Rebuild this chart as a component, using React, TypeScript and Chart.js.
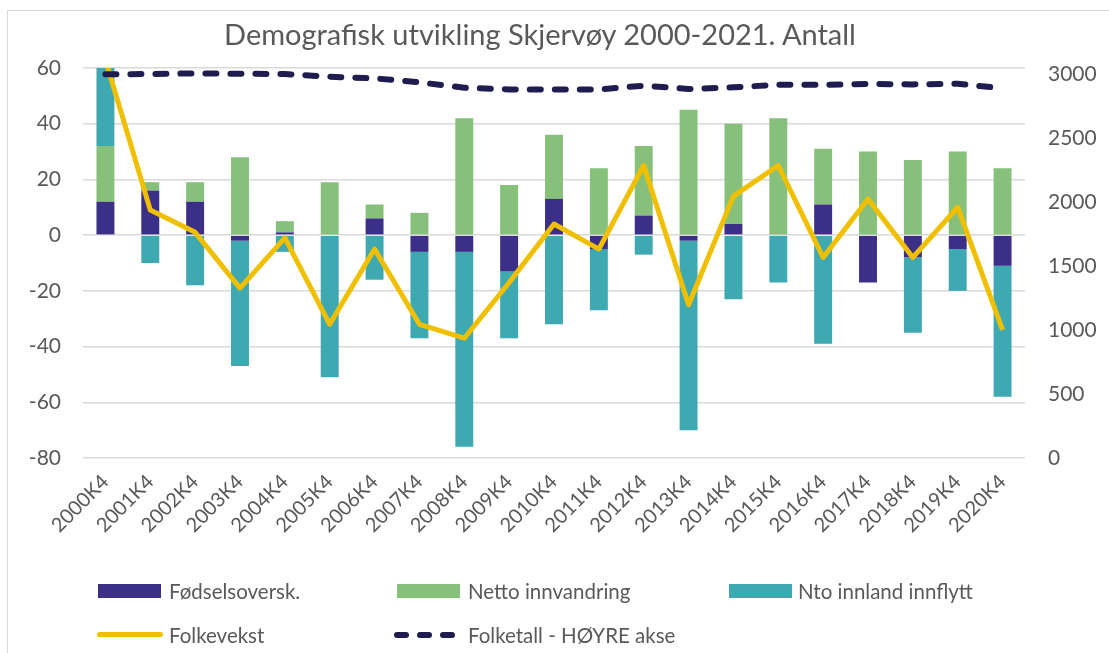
import React, { useEffect, useRef } from "react";
import { Chart, registerables } from "chart.js";

Chart.register(...registerables);

const categories = [
  "2000K4", "2001K4", "2002K4", "2003K4", "2004K4", "2005K4", "2006K4",
  "2007K4", "2008K4", "2009K4", "2010K4", "2011K4", "2012K4", "2013K4",
  "2014K4", "2015K4", "2016K4", "2017K4", "2018K4", "2019K4", "2020K4",
];
const fodselsoverskudd = [12, 16, 12, -2, 1, 0, 6, -6, -6, -13, 13, -5, 7, -2, 4, 0, 11, -17, -8, -5, -11];
const nettoInnvandring = [20, 3, 7, 28, 4, 19, 5, 8, 42, 18, 23, 24, 25, 45, 36, 42, 20, 30, 27, 30, 24];
const ntoInnlandInnflytt = [31, -10, -18, -45, -6, -51, -16, -31, -70, -24, -32, -22, -7, -68, -23, -17, -39, 0, -27, -15, -47];
const folkevekst = [63, 9, 1, -19, -1, -32, -5, -32, -37, -17, 4, -5, 25, -25, 14, 25, -8, 13, -8, 10, -34];
const folketall = [2998, 3000, 3005, 3002, 3000, 2979, 2966, 2935, 2893, 2880, 2880, 2880, 2909, 2883, 2896, 2916, 2916, 2922, 2919, 2924, 2888];

const leftTicks = [-80, -60, -40, -20, 0, 20, 40, 60];
const rightTicks = [0, 500, 1000, 1500, 2000, 2500, 3000];

const TITLE = "Demografisk utvikling Skjervøy 2000-2021. Antall";
const COLORS = {
  purple: "#3b2f88",
  green: "#86c07a",
  teal: "#3fa9b2",
  yellow: "#f0c000",
  navy: "#1f1d50",
  text: "#595959",
  grid: "#d9d9d9",
};

const FONT = "Lato, 'Open Sans', sans-serif";

export default function App() {
  const ref = useRef<HTMLCanvasElement | null>(null);

  useEffect(() => {
    if (!ref.current) return;
    Chart.defaults.font.family = FONT;
    Chart.defaults.color = COLORS.text;
    const chart = new Chart(ref.current, {
      type: "bar",
      data: {
        labels: categories,
        datasets: [
          {
            type: "line",
            label: "Folketall - HØYRE akse",
            data: folketall,
            yAxisID: "y1",
            borderColor: COLORS.navy,
            borderWidth: 6,
            borderDash: [11, 14],
            borderCapStyle: "round",
            pointRadius: 0,
            tension: 0,
            order: 0,
          },
          {
            type: "line",
            label: "Folkevekst",
            data: folkevekst,
            yAxisID: "y",
            borderColor: COLORS.yellow,
            borderWidth: 5,
            borderJoinStyle: "round",
            pointRadius: 0,
            tension: 0,
            clip: 0,
            order: 1,
          },
          {
            label: "Fødselsoversk.",
            data: fodselsoverskudd,
            backgroundColor: COLORS.purple,
            yAxisID: "y",
            stack: "s",
            order: 2,
            clip: 0,
          },
          {
            label: "Netto innvandring",
            data: nettoInnvandring,
            backgroundColor: COLORS.green,
            yAxisID: "y",
            stack: "s",
            order: 2,
            clip: 0,
          },
          {
            label: "Nto innland innflytt",
            data: ntoInnlandInnflytt,
            backgroundColor: COLORS.teal,
            yAxisID: "y",
            stack: "s",
            order: 2,
            clip: 0,
          },
        ] as any,
      },
      options: {
        responsive: false,
        animation: false,
        devicePixelRatio: 1,
        layout: { padding: { left: 0, right: 0, top: 68, bottom: 0 } },
        datasets: { bar: { barPercentage: 0.4, categoryPercentage: 1 } },
        plugins: {
          legend: { display: false },
          tooltip: { enabled: false },
          title: { display: false },
        },
        scales: {
          x: {
            stacked: true,
            offset: true,
            grid: { display: false },
            border: { display: false },
            ticks: {
              color: COLORS.text,
              font: { family: FONT, size: 20 },
              minRotation: 45,
              maxRotation: 45,
              autoSkip: false,
              padding: 4,
            },
            afterFit: (s: any) => {
              s.height = 195;
            },
          },
          y: {
            stacked: true,
            position: "left",
            min: -80,
            max: 60,
            grid: { color: COLORS.grid, lineWidth: 1.5, drawTicks: false },
            border: { display: false },
            afterBuildTicks: (s: any) => {
              s.ticks = leftTicks.map((v) => ({ value: v }));
            },
            ticks: {
              color: COLORS.text,
              font: { family: FONT, size: 21 },
              padding: 22,
              callback: (v: any) => String(v),
            },
            afterFit: (s: any) => {
              s.width = 83;
            },
          },
          y1: {
            position: "right",
            min: 0,
            max: 3047,
            grid: { display: false, drawTicks: false },
            border: { display: false },
            afterBuildTicks: (s: any) => {
              s.ticks = rightTicks.map((v) => ({ value: v }));
            },
            ticks: {
              color: COLORS.text,
              font: { family: FONT, size: 21 },
              padding: 23,
              callback: (v: any) => String(v),
            },
            afterFit: (s: any) => {
              s.width = 84;
            },
          },
        },
      } as any,
    });
    return () => chart.destroy();
  }, []);

  const legendText: React.CSSProperties = {
    position: "absolute",
    fontFamily: FONT,
    fontSize: 20.5,
    color: COLORS.text,
    lineHeight: "24px",
    whiteSpace: "nowrap",
  };
  const box = (left: number, color: string): React.CSSProperties => ({
    position: "absolute",
    left,
    top: 584,
    width: 63,
    height: 14,
    background: color,
  });
  const dash = (left: number): React.CSSProperties => ({
    position: "absolute",
    left,
    top: 632,
    width: 15,
    height: 6,
    borderRadius: 3,
    background: COLORS.navy,
  });

  return (
    <div
      style={{
        position: "fixed",
        left: 0,
        top: 0,
        width: 1109,
        height: 653,
        overflow: "hidden",
        background: "#ffffff",
      }}
    >
      <div
        style={{
          position: "absolute",
          left: 7,
          top: 10,
          width: 1140,
          height: 700,
          border: "1px solid #d9d9d9",
        }}
      />
      <canvas
        ref={ref}
        width={1109}
        height={653}
        style={{ position: "absolute", left: 0, top: 0, width: 1109, height: 653, display: "block" }}
      />
      <div
        style={{
          position: "absolute",
          left: 0,
          top: 16,
          width: 1080,
          textAlign: "center",
          fontFamily: FONT,
          fontSize: 29,
          lineHeight: "35px",
          color: COLORS.text,
          whiteSpace: "nowrap",
        }}
      >
        {TITLE}
      </div>
      <div style={box(98, COLORS.purple)} />
      <div style={{ ...legendText, left: 169, top: 579 }}>Fødselsoversk.</div>
      <div style={box(397, COLORS.green)} />
      <div style={{ ...legendText, left: 468, top: 579 }}>Netto innvandring</div>
      <div style={box(729, COLORS.teal)} />
      <div style={{ ...legendText, left: 798, top: 579 }}>Nto innland innflytt</div>
      <div
        style={{
          position: "absolute",
          left: 97,
          top: 632,
          width: 66,
          height: 5,
          borderRadius: 3,
          background: COLORS.yellow,
        }}
      />
      <div style={{ ...legendText, left: 169, top: 623 }}>Folkevekst</div>
      <div style={dash(394)} />
      <div style={dash(417)} />
      <div style={dash(440)} />
      <div style={{ ...legendText, left: 468, top: 623 }}>Folketall - HØYRE akse</div>
    </div>
  );
}
